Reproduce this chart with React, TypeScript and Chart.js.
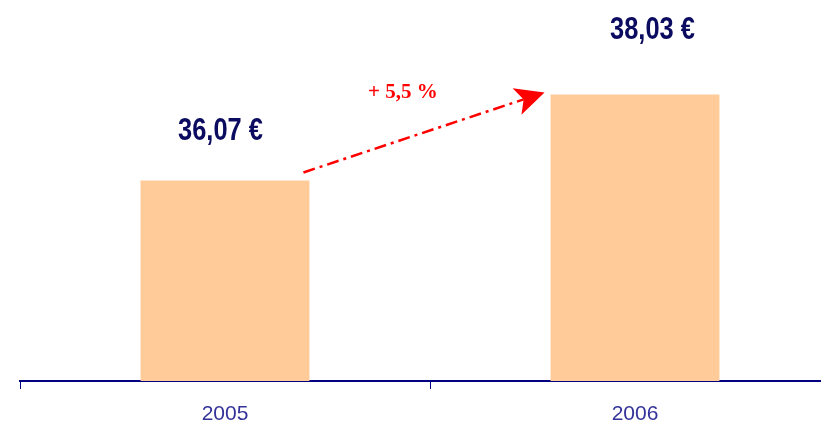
import React, { useEffect, useRef } from 'react';
import { Chart, registerables } from 'chart.js';

Chart.register(...registerables);

const categories = ['2005', '2006'];
const values = [36.07, 38.03];
const valueLabels = ['36,07 €', '38,03 €'];
const growthLabel = '+ 5,5 %';
const yMin = 31.5;
const yMax = 40;

const NAVY = '#000080';
const LABEL_NAVY = '#0b0b60';
const TICK_BLUE = '#333399';
const BAR = '#FFCC99';
const RED = '#FF0000';

const annotationPlugin = {
  id: 'annotations',
  afterDatasetsDraw(chart: any) {
    const ctx = chart.ctx;
    const bars = chart.getDatasetMeta(0).data;
    if (!bars || bars.length < 2) return;
    const b1 = bars[0];
    const b2 = bars[1];

    // value labels (condensed look via horizontal scaling)
    const labelOffsets = [
      { dx: -4.5, dy: -40.5 },
      { dx: 17.5, dy: -55.7 },
    ];
    bars.forEach((b: any, i: number) => {
      const o = labelOffsets[i];
      ctx.save();
      ctx.translate(b.x + o.dx, b.y + o.dy);
      ctx.scale(0.82, 1);
      ctx.font = 'bold 31px "Liberation Sans", Arial, sans-serif';
      ctx.fillStyle = LABEL_NAVY;
      ctx.textAlign = 'center';
      ctx.textBaseline = 'alphabetic';
      ctx.fillText(valueLabels[i], 0, 0);
      ctx.restore();
    });

    // arrow
    const sx = b1.x + b1.width / 2 - 6;
    const sy = b1.y - 8;
    const tx = b2.x - b2.width / 2 - 6;
    const ty = b2.y - 2;
    const dxv = tx - sx;
    const dyv = ty - sy;
    const len = Math.hypot(dxv, dyv);
    const ux = dxv / len;
    const uy = dyv / len;
    const px = -uy;
    const py = ux;
    const headLen = 29;
    const halfW = 14;
    const notch = 22;
    ctx.save();
    ctx.strokeStyle = RED;
    ctx.lineWidth = 2.5;
    ctx.setLineDash([12, 5, 3, 5]);
    ctx.beginPath();
    ctx.moveTo(sx, sy);
    ctx.lineTo(tx - ux * notch, ty - uy * notch);
    ctx.stroke();
    ctx.setLineDash([]);
    ctx.fillStyle = RED;
    ctx.beginPath();
    ctx.moveTo(tx, ty);
    ctx.lineTo(tx - ux * headLen + px * halfW, ty - uy * headLen + py * halfW);
    ctx.lineTo(tx - ux * notch, ty - uy * notch);
    ctx.lineTo(tx - ux * headLen - px * halfW, ty - uy * headLen - py * halfW);
    ctx.closePath();
    ctx.fill();

    // growth label
    ctx.font = 'bold 21px "Liberation Serif", "Times New Roman", serif';
    ctx.textAlign = 'center';
    ctx.textBaseline = 'alphabetic';
    ctx.fillText(growthLabel, sx + 99.5, sy - 74.7);
    ctx.restore();
  },
};

export default function App() {
  const canvasRef = useRef<HTMLCanvasElement | null>(null);

  useEffect(() => {
    const canvas = canvasRef.current;
    if (!canvas) return;
    const chart = new Chart(canvas, {
      type: 'bar',
      data: {
        labels: categories,
        datasets: [
          {
            data: values,
            backgroundColor: BAR,
            borderWidth: 0,
            categoryPercentage: 1,
            barPercentage: 0.412,
          },
        ],
      },
      options: {
        responsive: false,
        animation: false,
        devicePixelRatio: 1,
        layout: { padding: { left: 20, right: 10, top: 8, bottom: 0 } },
        plugins: {
          legend: { display: false },
          tooltip: { enabled: false },
          title: { display: false },
        },
        scales: {
          x: {
            type: 'category',
            offset: true,
            grid: {
              display: true,
              offset: true,
              drawOnChartArea: false,
              drawTicks: true,
              tickLength: 8,
              color: NAVY,
              lineWidth: 1,
            },
            border: { display: true, color: NAVY, width: 2 },
            ticks: {
              color: TICK_BLUE,
              padding: 13,
              font: { family: '"Liberation Sans", Arial, sans-serif', size: 21 },
            },
            afterFit: (scale: any) => {
              scale.height = 43;
            },
          },
          y: {
            display: false,
            min: yMin,
            max: yMax,
          },
        },
      },
      plugins: [annotationPlugin],
    });
    return () => chart.destroy();
  }, []);

  return (
    <div
      style={{
        position: 'fixed',
        left: 0,
        top: 0,
        width: 821,
        height: 424,
        overflow: 'hidden',
        background: '#fff',
      }}
    >
      <canvas ref={canvasRef} width={850} height={424} style={{ display: 'block', width: 850, height: 424 }} />
    </div>
  );
}
